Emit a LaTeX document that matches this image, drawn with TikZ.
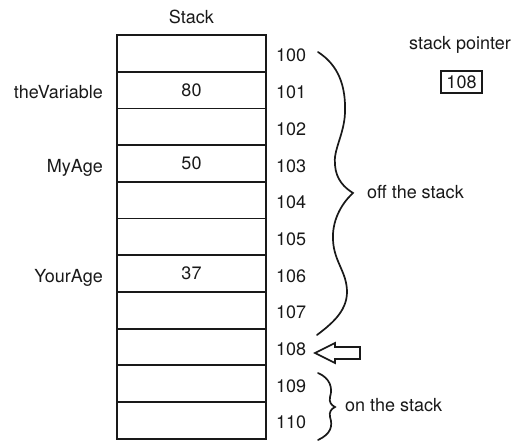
\documentclass[tikz,border=0pt]{standalone}
\usepackage{fontspec}
\setmainfont{TeX Gyre Heros}
\usepackage{tikz}
\usetikzlibrary{calc, positioning}
\definecolor{mainBlack}{gray}{0.1}

\begin{document}
\begin{tikzpicture}[x=1pt, y=-1pt, mainBlack,
    every node/.style={font=\fontsize{18}{21}\selectfont, inner sep=0pt},
    cell/.style={draw, line width=1.8pt, outer sep=0pt, minimum width=149pt, minimum height=36.7pt},
    addr/.style={anchor=mid west, yshift=-6pt},
    varname/.style={anchor=mid east, yshift=-6pt},
    curly/.style={line width=1.7pt, line cap=round}]
    \useasboundingbox (0,0) rectangle (514,440);

    % Stack cells
    \node[cell] (c0) at (191.5,53.35) {};
    \node[cell, below=0pt of c0] (c1) {\raisebox{-3pt}{80}};
    \node[cell, below=0pt of c1] (c2) {};
    \node[cell, below=0pt of c2] (c3) {\raisebox{-3pt}{50}};
    \node[cell, below=0pt of c3] (c4) {};
    \node[cell, below=0pt of c4] (c5) {};
    \node[cell, below=0pt of c5] (c6) {\raisebox{-3pt}{37}};
    \node[cell, below=0pt of c6] (c7) {};
    \node[cell, below=0pt of c7] (c8) {};
    \node[cell, below=0pt of c8] (c9) {};
    \node[cell, below=0pt of c9] (c10) {};
    \node[above=11pt of c0] (title) {Stack};

    % addresses
    \node[right=10pt of c0.east, addr] (a0) {100};
    \node[right=10pt of c1.east, addr] (a1) {101};
    \node[right=10pt of c2.east, addr] (a2) {102};
    \node[right=10pt of c3.east, addr] (a3) {103};
    \node[right=10pt of c4.east, addr] (a4) {104};
    \node[right=10pt of c5.east, addr] (a5) {105};
    \node[right=10pt of c6.east, addr] (a6) {106};
    \node[right=10pt of c7.east, addr] (a7) {107};
    \node[right=10pt of c8.east, addr] (a8) {108};
    \node[right=10pt of c9.east, addr] (a9) {109};
    \node[right=10pt of c10.east, addr] (a10) {110};

    % variable names
    \node[left=14pt of c1.west, varname] (theVariable) {theVariable};
    \node[left=14pt of c3.west, varname] (myAge) {MyAge};
    \node[left=14pt of c6.west, varname] (yourAge) {YourAge};

    % stack pointer
    \node[draw, line width=1.5pt, minimum width=41pt, minimum height=22pt] (sp) at (461.5,82) {\raisebox{-1pt}{108}};
    \node[anchor=mid] (spLabel) at (460,47) {stack pointer};

    % off the stack
    \coordinate (offTop) at (318,52);
    \coordinate (offTip) at (353,193);
    \coordinate (offBot) at (317,335);
    \draw[curly] (offTop) .. controls (338,65) and (346,85) .. (345,113)
        .. controls (344,135) and (333,150) .. (335,165)
        .. controls (336,180) and (345,188) .. (offTip)
        .. controls (340,205) and (332,222) .. (333,240)
        .. controls (334,262) and (347,272) .. (347,292)
        .. controls (347,312) and (330,325) .. (offBot);
    \node[right=14pt of offTip, anchor=mid west, yshift=-3pt] (offLabel) {off the stack};

    % pointer arrow
    \coordinate (ptr) at (315,353);
    \draw[line width=1.6pt, line join=miter] (ptr) -- ++(20,-10) -- ++(0,4) -- ++(25,0)
        -- ++(0,12) -- ++(-25,0) -- ++(0,4) -- cycle;

    % on the stack
    \coordinate (onTop) at (318,373);
    \coordinate (onTip) at (335,407);
    \coordinate (onBot) at (318,440);
    \draw[curly] (onTop) .. controls (330,378) and (333,388) .. (330,397)
        .. controls (329,402) and (331,405) .. (onTip)
        .. controls (331,409) and (329,412) .. (330,417)
        .. controls (333,426) and (331,434) .. (onBot);
    \node[right=10pt of onTip, anchor=mid west, yshift=-2pt] (onLabel) {on the stack};
\end{tikzpicture}
\end{document}
